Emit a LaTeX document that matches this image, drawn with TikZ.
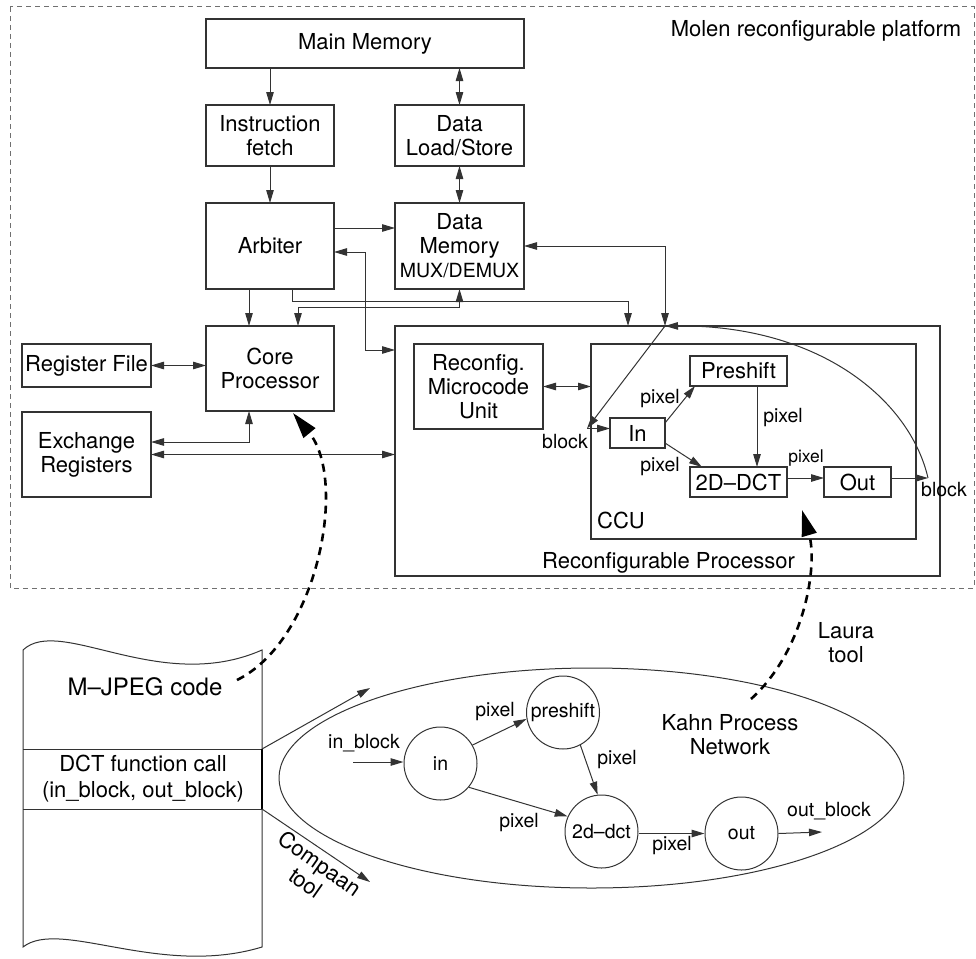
\documentclass[tikz,border=0pt]{standalone}
\usepackage{fontspec}
\setmainfont{TeX Gyre Heros}
\usetikzlibrary{arrows.meta,shapes.geometric,calc}
\definecolor{ln}{HTML}{333333}
\definecolor{fr}{HTML}{707070}
\newcommand\fA{\fontsize{22}{24}\selectfont}
\newcommand\fB{\fontsize{19.5}{23}\selectfont}
\newcommand\fC{\fontsize{17.5}{20}\selectfont}
\newcommand\fD{\fontsize{24}{28}\selectfont}
\newcommand\fE{\fontsize{22}{26}\selectfont}
\tikzset{
  box/.style={draw=ln, line width=1.1pt, inner sep=0pt, outer sep=0pt, align=center, font=\fA, text=black},
  arr/.style={draw=ln, line width=1pt, -{Triangle[length=13pt,width=7.5pt]}},
  darr/.style={draw=ln, line width=1pt, {Triangle[length=13pt,width=7.5pt]}-{Triangle[length=13pt,width=7.5pt]}},
  plain/.style={draw=ln, line width=1pt},
  bigdash/.style={draw=black, line width=2.6pt, dash pattern=on 8pt off 6pt, -{Triangle[length=26pt,width=15pt]}},
  lbl/.style={font=\fB, inner sep=0pt, text=black},
  kcirc/.style={circle, draw=ln, line width=1pt, minimum size=73pt, inner sep=0pt, font=\fB},
}
\begin{document}
\begin{tikzpicture}[x=1pt,y=-1pt]
\useasboundingbox (0,0) rectangle (976,958);
% platform frame
\draw[fr, line width=1pt, dash pattern=on 5pt off 4pt] (10,7) rectangle (974,588);
\node[font=\fA] (molen) at (816,31) {Molen reconfigurable platform};

% boxes
\node[box, minimum width=318pt, minimum height=49pt] (mm) at (365,43.5) {Main Memory};
\node[box, minimum width=128pt, minimum height=61pt] (ifetch) at (270,135.5) {Instruction\\fetch};
\node[box, minimum width=129pt, minimum height=61pt] (dls) at (459.5,135.5) {Data\\Load/Store};
\node[box, minimum width=128pt, minimum height=86pt] (arb) at (270,246) {Arbiter};
\node[box, minimum width=129pt, minimum height=86pt] (dm) at (459.5,246) {Data\\Memory\\{\fB MUX/DEMUX}};
\node[box, minimum width=128pt, minimum height=85pt] (core) at (270,368.5) {Core\\Processor};
\node[box, minimum width=129pt, minimum height=43pt] (rf) at (86.5,365.5) {Register File};
\node[box, minimum width=129pt, minimum height=85pt] (exr) at (86.5,454.5) {Exchange\\Registers};
\node[box, minimum width=545pt, minimum height=250pt] (rp) at (667.5,451) {};
\node[box, minimum width=129pt, minimum height=85pt] (rmu) at (478.5,386.5) {Reconfig.\\Microcode\\Unit};
\node[box, minimum width=325pt, minimum height=195pt] (ccu) at (753.5,441.5) {};
\node[box, minimum width=55pt, minimum height=30pt] (inb) at (637.5,433) {In};
\node[box, minimum width=97pt, minimum height=30pt] (pre) at (738.5,371) {Preshift};
\node[box, minimum width=97pt, minimum height=30pt] (dct) at (738.5,482) {2D--DCT};
\node[box, minimum width=67pt, minimum height=30pt] (outb) at (857.5,482) {Out};
\node[font=\fA] (ccul) at (621,520) {CCU};
\node[font=\fA] (rpl) at (668.5,563) {Reconfigurable Processor};

% helper coordinates
\coordinate (y228) at (0,228);
\coordinate (y252) at (0,252);
\coordinate (y350) at (0,350);
\coordinate (y301) at (0,301);
\coordinate (y307) at (0,307);
\coordinate (y442) at (0,442);
\coordinate (x249) at (249,0);
\coordinate (x292) at (292,0);
\coordinate (x298) at (298,0);
\coordinate (x365) at (365,0);
\coordinate (x628) at (628,0);
\coordinate (j1) at (665,326);
\coordinate (blk) at (587,428.5);
\coordinate (blkR) at (928,478);

% top connectors
\draw[arr] (mm.south -| ifetch.north) -- (ifetch.north);
\draw[darr] (mm.south -| dls.north) -- (dls.north);
\draw[arr] (ifetch.south) -- (arb.north);
\draw[darr] (dls.south) -- (dm.north);
\draw[arr] (arb.east |- y228) -- (dm.west |- y228);
\draw[darr] (arb.east |- y252) -| (x365 |- y350) -- (rp.west |- y350);
\draw[arr] (x249 |- arb.south) -- (x249 |- core.north);
\draw[arr] (x292 |- arb.south) |- (x628 |- y301) -- (x628 |- rp.north);
\draw[darr] (x298 |- core.north) |- (dm.south |- y307) -- (dm.south);
\draw[darr] (dm.east) -| (j1);
\draw[arr] (j1) -- (blk);
\draw[arr] (blk) -- (inb.west |- blk);
\draw[darr] (rmu.east) -- (ccu.west |- rmu.east);
\draw[darr] (rf.east) -- (core.west |- rf.east);
\draw[darr] (x249 |- core.south) |- (exr.east |- y442);
\draw[darr] (exr.east) -- (rp.west |- exr.east);

% CCU internals
\draw[arr] ([yshift=10pt]inb.east) -- ([xshift=5pt]pre.south west);
\draw[arr] ([yshift=-10pt]inb.east) -- ([xshift=12pt]dct.north west);
\draw[arr] ([xshift=18.5pt]pre.south) -- ([xshift=18.5pt]dct.north);
\draw[arr] ([yshift=4pt]dct.east) -- ([yshift=4pt]outb.west);
\draw[arr] ([yshift=4pt]outb.east) -- (blkR);
\draw[arr] (blkR) .. controls (910,400) and (820,325) .. (j1);
\node[lbl] (p1) at (660,399) {pixel};
\node[lbl] (p2) at (660,467) {pixel};
\node[lbl] (p3) at (783,418) {pixel};
\node[lbl, font=\fC] (p4) at (806,458) {pixel};
\node[lbl] (b1) at (944,490) {block};
\node[lbl] (b2) at (565,442) {block};

% document
\draw[plain] (23,650) .. controls (60,615) and (160,695) .. (262,650) -- (262,947)
  .. controls (160,978) and (60,918) .. (23,947) -- cycle;
\coordinate (d1) at (262,749);
\coordinate (d2) at (262,809);
\draw[plain] (23,749) -- (d1);
\draw[plain] (23,809) -- (d2);
\draw[draw=black, line width=2pt] (d1) -- (d2);
\node[font=\fD] (mjpeg) at (145,687) {M--JPEG code};
\node[font=\fE, align=center] (dctcall) at (143,779) {DCT function call\\(in\_block, out\_block)};
\coordinate (k1) at (370,688);
\coordinate (k2) at (370,882);
\draw[arr] (d1) -- (k1);
\draw[arr] (d2) -- (k2);
\node[font=\fA, align=center, rotate=-35, inner sep=0pt] (compaan) at (313,873) {Compaan\\tool};

% Kahn process network
\node[ellipse, draw=ln, line width=1pt, minimum width=625pt, minimum height=220pt, inner sep=0pt] (kpn) at (591.5,778) {};
\node[kcirc] (kin) at (440.5,763.5) {in};
\node[kcirc] (kpre) at (563,712.5) {preshift};
\node[kcirc] (kdct) at (601.5,831.5) {2d--dct};
\node[kcirc] (kout) at (741.5,833.5) {out};
\coordinate (ib) at (353,762);
\coordinate (ob) at (822,832);
\draw[arr] (ib) -- (kin.west |- ib);
\draw[arr] (kin.30) -- (kpre.190);
\draw[arr] (kin.-40) -- (kdct.156);
\draw[arr] (kpre.-62) -- (kdct.96);
\draw[arr] (kdct.east |- kout.west) -- (kout.west);
\draw[arr] (kout.east) -- (ob);
\node[lbl] (ibl) at (364,743) {in\_block};
\node[lbl] (q1) at (495,712) {pixel};
\node[lbl] (q2) at (519,823) {pixel};
\node[lbl] (q3) at (617,760) {pixel};
\node[lbl] (q4) at (672,846) {pixel};
\node[lbl] (obl) at (829,811) {out\_block};
\node[font=\fA, align=center] (kahn) at (730,735) {Kahn Process\\Network};
\node[font=\fA, align=center] (laura) at (846,643) {Laura\\tool};

% tool arrows
\coordinate (mj1) at (237,680);
\coordinate (ct) at ([xshift=23pt,yshift=-2pt]core.south);
\draw[bigdash] (mj1) .. controls (318,640) and (348,480) .. (ct);
\coordinate (lt0) at (751,699);
\coordinate (lt) at (802,510);
\draw[bigdash] (lt0) .. controls (805,650) and (818,565) .. (lt);
\end{tikzpicture}
\end{document}
